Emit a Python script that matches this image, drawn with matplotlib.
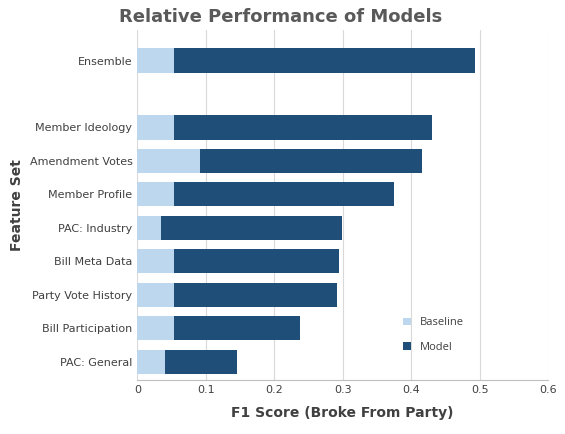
import matplotlib.pyplot as plt

features = ['Ensemble', 'Member Ideology', 'Amendment Votes', 'Member Profile', 'PAC: Industry',
            'Bill Meta Data', 'Party Vote History', 'Bill Participation', 'PAC: General']
baseline = [0.054, 0.054, 0.092, 0.054, 0.035, 0.054, 0.054, 0.053, 0.041]
model = [0.493, 0.431, 0.416, 0.375, 0.299, 0.295, 0.292, 0.238, 0.146]
ypos = [10, 8, 7, 6, 5, 4, 3, 2, 1]

fig, ax = plt.subplots()
fig.set_size_inches((5.65, 4.34))
fig.subplots_adjust(left=0.243, right=0.97, top=0.93, bottom=0.124)
plt.rcParams['font.family'] = ['Open Sans', 'DejaVu Sans']

ax.barh(ypos, model, height=0.72, color='#1f4e79', label='Model', zorder=2)
ax.barh(ypos, baseline, height=0.72, color='#bdd7ee', label='Baseline', zorder=3)

ax.set_ylim(0.45, 10.9)
ax.set_xlim(0, 0.6)
ax.set_xticks([0, 0.1, 0.2, 0.3, 0.4, 0.5, 0.6], ['0', '0.1', '0.2', '0.3', '0.4', '0.5', '0.6'])
ax.set_yticks(ypos, features)
ax.tick_params(length=0, labelsize=8, colors='#404040')
ax.grid(axis='x', color='#d9d9d9', linewidth=0.8, zorder=0)
for s in ['top', 'right', 'left']:
    ax.spines[s].set_visible(False)
ax.spines['bottom'].set_color('#bfbfbf')

ax.set_title('Relative Performance of Models', fontsize=13, fontweight='bold', color='#595959', x=0.35)
ax.set_xlabel('F1 Score (Broke From Party)', fontsize=10, fontweight='bold', color='#404040', labelpad=8)
ax.set_ylabel('Feature Set', fontsize=10, fontweight='bold', color='#404040')

handles, labels = ax.get_legend_handles_labels()
ax.legend(handles[::-1], labels[::-1], loc='lower right', bbox_to_anchor=(0.82, 0.05), frameon=False,
          fontsize=8, handlelength=0.7, handleheight=0.7, labelspacing=1.2, labelcolor='#404040')

fig.savefig('out.png', dpi=100)
